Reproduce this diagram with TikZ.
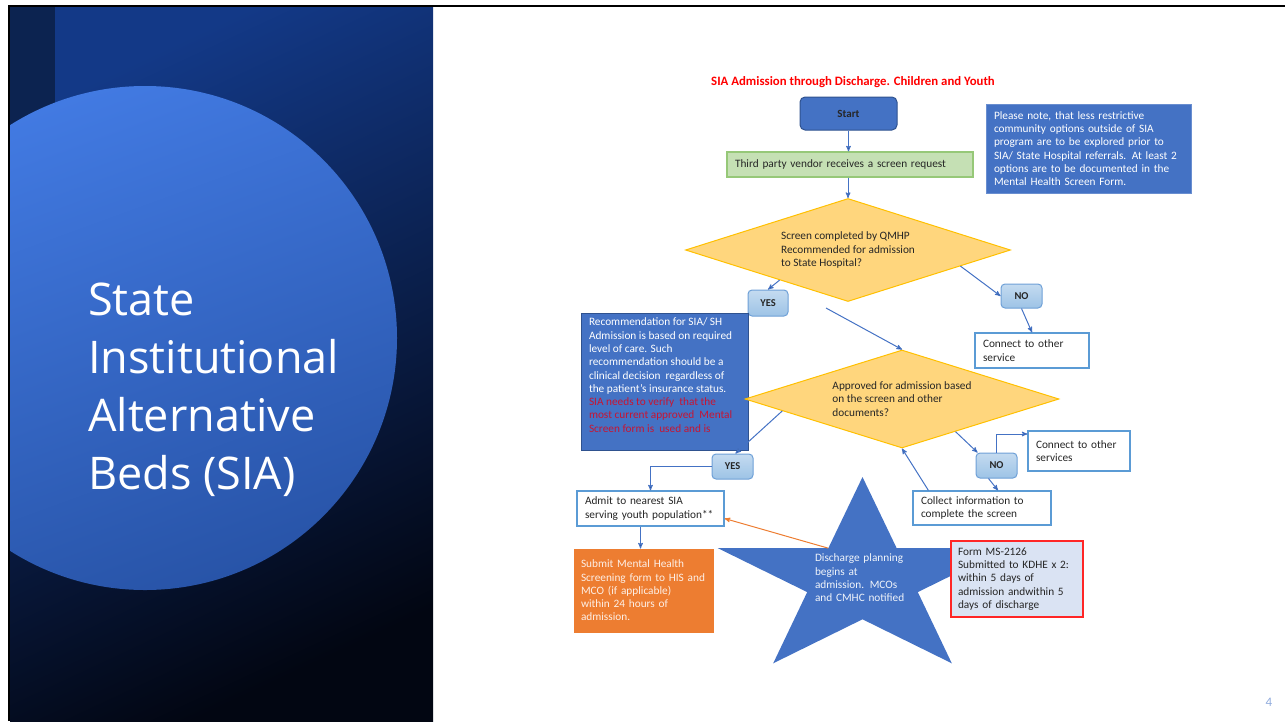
\documentclass[tikz,border=0pt]{standalone}
\usepackage{fontspec}
\setmainfont{Carlito}
\newfontfamily\slidefont{Open Sans}
\usetikzlibrary{arrows,shapes,calc}
\definecolor{flowblue}{RGB}{68,114,196}
\definecolor{flowdark}{RGB}{47,82,143}
\definecolor{boxline}{RGB}{91,155,213}
\definecolor{gold}{RGB}{255,214,125}
\definecolor{goldline}{RGB}{255,192,0}
\definecolor{leaf}{RGB}{197,224,180}
\definecolor{leafline}{RGB}{150,200,120}
\definecolor{pale}{RGB}{218,227,243}
\definecolor{rust}{RGB}{237,125,49}
\definecolor{alert}{RGB}{200,20,50}
\definecolor{answer}{RGB}{157,195,230}
\definecolor{answerline}{RGB}{110,160,215}
\definecolor{ink}{RGB}{38,38,38}
\definecolor{panel}{RGB}{19,57,135}
\definecolor{panelend}{RGB}{2,6,18}
\definecolor{strip}{RGB}{12,35,80}
\definecolor{disc}{RGB}{66,122,226}
\definecolor{discend}{RGB}{40,84,168}
\definecolor{pagenum}{RGB}{143,170,220}
\tikzstyle{flow} = [draw=flowblue,line width=1pt,->]

\begin{document}
\begin{tikzpicture}[>=stealth',x=1pt,y=-1pt,
  font=\fontsize{11.3}{13.3}\selectfont,
  blue node/.style={rectangle,draw=flowdark,fill=flowblue,line width=1pt,text=white,align=left,inner xsep=8pt,inner ysep=4pt},
  white node/.style={rectangle,draw=boxline,fill=white,line width=1.2pt,text=ink,align=left,inner xsep=8pt,inner ysep=4pt},
  answer node/.style={rectangle,rounded corners=4pt,draw=answerline,top color=answer!60!white,bottom color=answer,line width=1pt,text=ink,font=\fontsize{10.5}{12}\selectfont\bfseries,inner sep=0pt},
  check node/.style={diamond,aspect=3.2,draw=goldline,fill=gold,line width=1pt,text=ink,align=left,inner sep=0pt}]

  \useasboundingbox (0,0) rectangle (1285,721);

  % title panel
  \shade[top color=panel,bottom color=panelend,shading angle=25] (10,7) rectangle (433,721);
  \begin{scope}
    \clip (10,7) rectangle (433,721);
    \fill[strip] (10,7) rectangle (55,200);
    \shade[top color=disc,middle color=disc!80!discend,bottom color=discend,shading angle=20] (145,338) circle[radius=252];
  \end{scope}
  \draw[line width=2pt] (1285,6) -- (9,6) -- (9,721);
  \node[anchor=north west,inner sep=0pt,text=white,align=left,font=\slidefont\fontsize{45}{58}\selectfont] (slidetitle) at (88,283) {State\\Institutional\\Alternative\\Beds (SIA)};

  % flow chart
  \node[text=red,font=\fontsize{12.8}{14}\selectfont\bfseries] (heading) at (853,82) {SIA Admission through Discharge. Children and Youth};
  \node[blue node,rounded corners=5pt,text=ink,font=\fontsize{11}{13}\selectfont\bfseries,minimum width=97pt,minimum height=33pt] (start) at (848.5,113.5) {Start};
  \node[white node,draw=leafline,fill=leaf,minimum width=246pt,minimum height=25pt,text width=230pt] (vendor) at (850,164.5) {Third party vendor receives a screen request};
  \node[blue node,draw=flowblue!80!white,minimum width=205pt,minimum height=89pt,text width=189pt] (note) at (1088.5,148.5) {Please note, that less restrictive\\community options outside of SIA\\program are to be explored prior to\\SIA/ State Hospital referrals. At least 2\\options are to be documented in the\\Mental Health Screen Form.};

  \node[check node,minimum width=325pt,minimum height=103pt] (screen) at (848,250) {Screen completed by QMHP\\Recommended for admission\\to State Hospital?};
  \node[answer node,minimum width=40pt,minimum height=26pt] (yes1) at (768,303) {YES};
  \node[answer node,minimum width=41pt,minimum height=24pt] (no1) at (1021.5,296) {NO};
  \node[white node,minimum width=114pt,minimum height=35pt,text width=98pt] (other1) at (1032,350.5) {Connect to other\\service};

  \node[blue node,inner ysep=5pt] (level) at (664.5,381.5) {\parbox[c][127pt][t]{151pt}{Recommendation for SIA/ SH\\Admission is based on required\\level of care. Such\\recommendation should be a\\clinical decision\ \ regardless of\\the patient's insurance status.\\\textcolor{alert}{SIA needs to verify\ \ that the}\\\textcolor{alert}{most current approved\ \ Mental}\\\textcolor{alert}{Screen form is\ \ used and is}}};
  \coordinate (yesgo) at (826,308);

  \node[check node,minimum width=314pt,minimum height=98pt] (approved) at (902,399) {Approved for admission based\\on the screen and other\\documents?};
  \node[answer node,minimum width=41pt,minimum height=25pt] (yes2) at (732.5,466.5) {YES};
  \node[answer node,minimum width=41pt,minimum height=25pt] (no2) at (996.5,465.5) {NO};
  \node[white node,minimum width=102pt,minimum height=40pt,text width=86pt] (other2) at (1079,451) {Connect to other\\services};
  \node[white node,minimum width=147pt,minimum height=35pt,text width=131pt] (admit) at (650.5,508.5) {Admit to nearest SIA\\serving youth population**};
  \node[white node,minimum width=138pt,minimum height=34pt,text width=122pt] (collect) at (982,508) {Collect information to\\complete the screen};
  \node[blue node,draw=rust,fill=rust,text=white!88!rust,minimum width=139pt,minimum height=83pt,text width=125pt,inner xsep=7pt] (submit) at (643.5,590.5) {Submit Mental Health\\Screening form to HIS and\\MCO (if applicable)\\within 24 hours of\\admission.};

  % star
  \fill[flowblue] (862.5,477) -- (828.3,548.2) -- (717.9,548.2) -- (807.2,592.1) -- (773.2,663.3)
    -- (862.5,619.3) -- (951.8,663.3) -- (917.8,592.1) -- (1007.1,548.2) -- (896.7,548.2) -- cycle;
  \coordinate (notch) at (828.3,548.2);
  \node[text=white!92!flowblue,text width=92pt,align=left,inner sep=0pt] (discharge) at (861,578) {Discharge planning\\begins at\\admission. MCOs\\and CMHC notified};
  \node[white node,draw=red!85!white,fill=pale,minimum width=132pt,minimum height=76pt,text width=118pt,inner xsep=7pt] (form) at (1017,579) {Form MS-2126\\Submitted to KDHE x 2:\\within 5 days of\\admission andwithin 5\\days of discharge};

  \path[flow]
    (start.south) edge (start.south |- vendor.north)
    (vendor.south -| screen.north) edge (screen.north)
    ($(screen.south)!0.42!(screen.west)$) edge (yes1.north)
    ($(screen.south)!0.69!(screen.east)$) edge (no1.west)
    (no1.south) edge (other1.north)
    (yesgo) edge (approved.north)
    ($(approved.west)!0.24!(approved.south)$) edge ([xshift=3pt]yes2.north)
    (yes2.west) edge[to path={-| (\tikztotarget)}] (admit.north)
    ([xshift=-10pt]admit.south) edge ([xshift=-10pt]admit.south |- submit.north)
    ($(approved.south)!0.34!(approved.east)$) edge ([xshift=2pt]no2.north west)
    (no2.north) edge[to path={|- (\tikztotarget)}] ([yshift=17pt]other2.west)
    ([xshift=-8pt]no2.south) edge ([xshift=16pt]collect.north)
    ([xshift=16pt]collect.north west) edge (approved.south)
    (notch) edge[draw=rust] ([yshift=-10pt]admit.east);

  \node[text=pagenum,font=\fontsize{13}{15}\selectfont] (page) at (1269,702) {4};
\end{tikzpicture}
\end{document}
